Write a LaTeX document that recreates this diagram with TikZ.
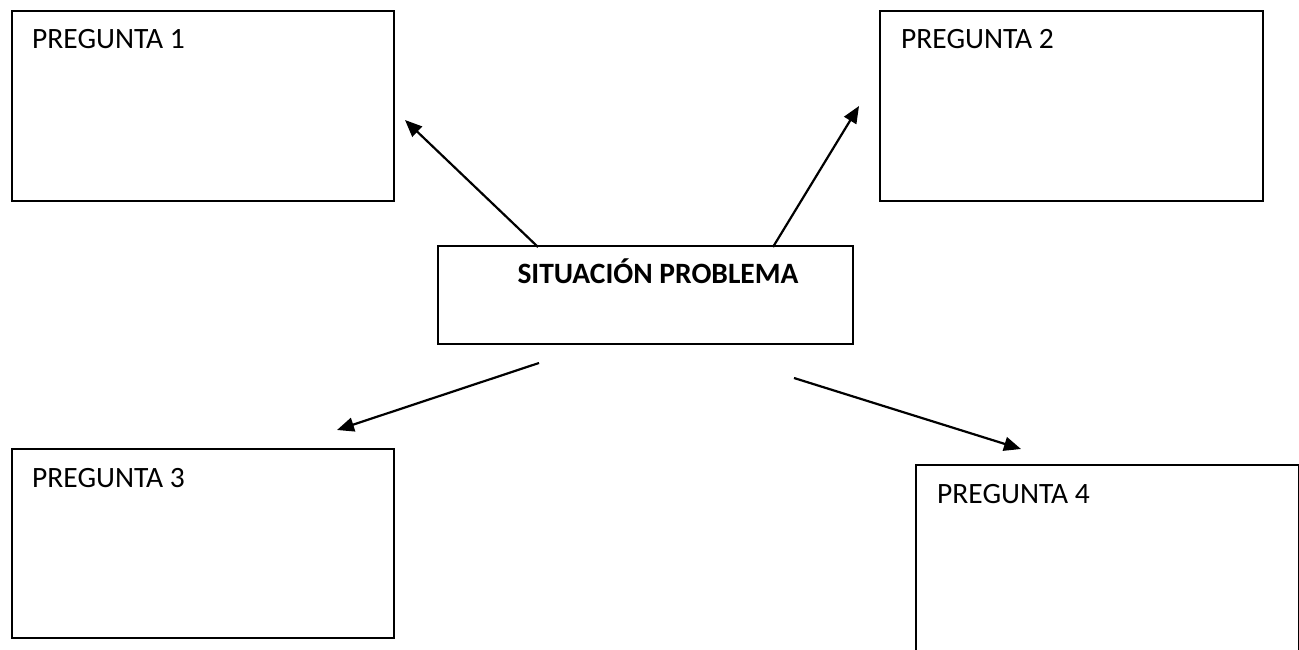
\documentclass[tikz,border=0pt]{standalone}
\usepackage{fontspec}
\setmainfont{Carlito}
\usetikzlibrary{arrows.meta}
\tikzset{
  qbox/.style={draw=black, line width=1.8pt, anchor=north west, inner sep=0pt},
  qtext/.style={anchor=base west, inner sep=0pt, font=\fontsize{29.5}{34}\selectfont},
  ttext/.style={anchor=base, inner sep=0pt, font=\fontsize{29.5}{34}\selectfont\bfseries},
  arr/.style={line width=2.2pt, -{Triangle[length=17pt,width=14pt]}}
}
\begin{document}
\begin{tikzpicture}[x=1pt,y=-1pt]
\useasboundingbox[fill=white] (0,0) rectangle (1299,650);
\node[qbox, minimum width=382pt, minimum height=190pt] (b1) at (11,10) {};
\node[qbox, minimum width=383pt, minimum height=190pt] (b2) at (879,10) {};
\node[qbox, minimum width=415pt, minimum height=98pt] (c) at (437,245) {};
\node[qbox, minimum width=382pt, minimum height=189pt] (b3) at (11,448) {};
\node[qbox, minimum width=383pt, minimum height=200pt] (b4) at (915,464) {};
\node[qtext] (t1) at (32,49) {PREGUNTA 1};
\node[qtext] (t2) at (901,49) {PREGUNTA 2};
\node[ttext] (tc) at (658,283) {SITUACIÓN PROBLEMA};
\node[qtext] (t3) at (32,487) {PREGUNTA 3};
\node[qtext] (t4) at (937,503) {PREGUNTA 4};
\coordinate (s1) at (538,247);
\coordinate (e1) at (405,120);
\coordinate (s2) at (773,247);
\coordinate (e2) at (859,106);
\coordinate (s3) at (539,363);
\coordinate (e3) at (337,430);
\coordinate (s4) at (794,378);
\coordinate (e4) at (1021,449);
\draw[arr] (s1) -- (e1);
\draw[arr] (s2) -- (e2);
\draw[arr] (s3) -- (e3);
\draw[arr] (s4) -- (e4);
\end{tikzpicture}
\end{document}
